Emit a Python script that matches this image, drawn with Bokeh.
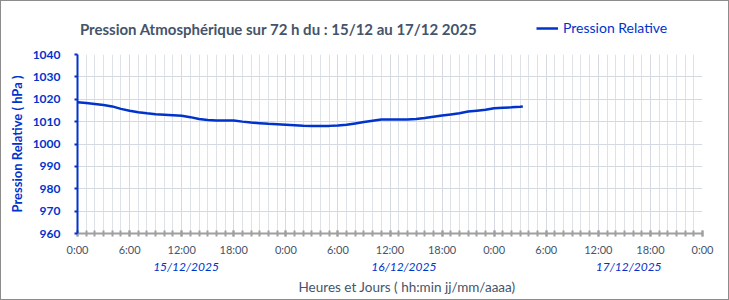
from bokeh.plotting import figure
from bokeh.models import (FixedTicker, Label, Legend, LegendItem, Range1d,
                          LinearAxis, Title, Column)
from bokeh.embed import file_html
from bokeh.resources import INLINE

# ---------------- data ----------------
hours = [0, 1, 2, 3, 4, 5, 6, 7, 8, 9, 10, 11, 12, 13, 14, 15, 16, 17, 18, 19,
         20, 21, 22, 23, 24, 25, 26, 27, 28, 29, 30, 31, 32, 33, 34, 35, 36, 37,
         38, 39, 40, 41, 42, 43, 44, 45, 46, 47, 48, 49, 50, 51, 51.3]
pressure = [1018.7, 1018.3, 1017.9, 1017.4, 1016.8, 1015.7, 1014.9, 1014.2,
            1013.7, 1013.3, 1013.1, 1012.9, 1012.6, 1012.0, 1011.2, 1010.7,
            1010.5, 1010.5, 1010.5, 1010.0, 1009.6, 1009.3, 1009.0, 1008.8,
            1008.6, 1008.4, 1008.2, 1008.1, 1008.0, 1008.1, 1008.3, 1008.6,
            1009.2, 1009.8, 1010.4, 1010.9, 1011.0, 1011.0, 1011.0, 1011.2,
            1011.6, 1012.2, 1012.7, 1013.2, 1013.7, 1014.5, 1014.9, 1015.3,
            1016.0, 1016.2, 1016.4, 1016.7, 1016.8]
x_tick_hours = [0, 6, 12, 18, 24, 30, 36, 42, 48, 54, 60, 66, 72]
x_tick_labels = ["0:00", "6:00", "12:00", "18:00", "0:00", "6:00", "12:00",
                 "18:00", "0:00", "6:00", "12:00", "18:00", "0:00"]
y_ticks = [960, 970, 980, 990, 1000, 1010, 1020, 1030, 1040]
day_labels = ["15/12/2025", "16/12/2025", "17/12/2025"]
series_name = "Pression Relative"
title_text = "Pression Atmosphérique sur 72 h du : 15/12 au 17/12  2025"
y_title = "Pression Relative ( hPa )"
x_title = "Heures et Jours ( hh:min  jj/mm/aaaa)"

# ---------------- style ----------------
FONT = "Lato"
BLUE = "#0033cc"
SLATE = "#44546a"
GRID = "#dde1e8"
W = 727
LEFT, RIGHT = 76, 26
NAN = float("nan")

# ---------------- header (title + legend) ----------------
HEAD_H = 45
head = figure(width=W, height=HEAD_H, output_backend="svg",
              toolbar_location=None, x_range=Range1d(LEFT + 1, W + 1 - RIGHT),
              y_range=Range1d(HEAD_H + 1, 1), min_border_left=LEFT,
              min_border_right=RIGHT, min_border_top=0, min_border_bottom=0,
              outline_line_color=None, background_fill_color="white",
              border_fill_color="white")
head.axis.visible = False
head.grid.visible = False
head.title.visible = False
head.add_layout(Label(x=280, y=28, text=title_text, text_font=FONT,
                      text_font_style="bold", text_font_size="15px",
                      text_color=SLATE, text_align="center",
                      text_baseline="middle"))
# legend proxy (same style as the series line, nothing plotted)
legend_line = head.line(x=[NAN, NAN], y=[NAN, NAN], line_color=BLUE,
                        line_width=2.5)
legend = Legend(items=[LegendItem(label=series_name, renderers=[legend_line],
                                  index=0)],
                location=(459, 10), orientation="horizontal",
                background_fill_alpha=0, border_line_color=None,
                padding=0, margin=0, glyph_width=22, glyph_height=16,
                label_height=16, label_standoff=5, label_text_font=FONT,
                label_text_font_size="14px", label_text_color=BLUE,
                label_text_baseline="middle")
head.add_layout(legend, "center")

# ---------------- main chart ----------------
MAIN_H = 298 - HEAD_H
p = figure(width=W, height=MAIN_H, output_backend="svg", toolbar_location=None,
           x_range=Range1d(0, 72), y_range=Range1d(960, 1040),
           min_border_left=LEFT, min_border_right=RIGHT, min_border_top=8,
           min_border_bottom=MAIN_H - 8 - 179, background_fill_color="white",
           border_fill_color="white", outline_line_color=None)
p.title.visible = False

r = p.line(hours, pressure, line_color=BLUE, line_width=2.5)

minor = list(range(73))
# x axis
xa = p.xaxis[0]
xa.ticker = FixedTicker(ticks=x_tick_hours, minor_ticks=minor)
xa.major_label_overrides = {h: l for h, l in zip(x_tick_hours, x_tick_labels)}
xa.axis_line_color = "#a0a0a0"
xa.axis_line_width = 2
xa.major_tick_line_color = "#a0a0a0"
xa.minor_tick_line_color = "#a0a0a0"
xa.major_tick_line_width = 2
xa.minor_tick_line_width = 2
xa.major_tick_in = 3
xa.major_tick_out = 3
xa.minor_tick_in = 3
xa.minor_tick_out = 3
xa.major_label_text_font = FONT
xa.major_label_text_font_size = "11px"
xa.major_label_text_color = SLATE
xa.major_label_standoff = 6

# day axis (second row of labels)
day_pos = [12.5, 37.6, 63.5]
da = LinearAxis(ticker=FixedTicker(ticks=day_pos),
                major_label_overrides={h: d for h, d in zip(day_pos, day_labels)},
                axis_line_color=None, major_tick_line_color=None,
                minor_tick_line_color=None, major_tick_in=0, major_tick_out=0,
                major_label_standoff=0, major_label_text_font=FONT,
                major_label_text_font_style="italic",
                major_label_text_font_size="12px",
                major_label_text_color=BLUE)
p.add_layout(da, "below")
p.add_layout(Title(text=x_title, align="left", offset=221, standoff=1,
                   text_font=FONT, text_font_style="normal",
                   text_font_size="13.5px", text_color=SLATE), "below")

# y axis
ya = p.yaxis[0]
ya.ticker = FixedTicker(ticks=y_ticks)
ya.axis_line_color = BLUE
ya.axis_line_width = 2
ya.major_tick_line_color = BLUE
ya.major_tick_line_width = 2
ya.major_tick_in = 0
ya.major_tick_out = 3
ya.minor_tick_line_color = None
ya.major_label_text_font = FONT
ya.major_label_text_font_style = "bold"
ya.major_label_text_font_size = "12px"
ya.major_label_text_color = BLUE
ya.major_label_standoff = 14
ya.axis_label = y_title
ya.axis_label_text_font = FONT
ya.axis_label_text_font_style = "bold"
ya.axis_label_text_font_size = "13px"
ya.axis_label_text_color = BLUE
ya.axis_label_standoff = 5

# grids
p.xgrid.ticker = FixedTicker(ticks=x_tick_hours, minor_ticks=minor)
p.xgrid.grid_line_color = "#d5dae2"
p.xgrid.grid_line_width = 1
p.xgrid.minor_grid_line_color = GRID
p.ygrid.ticker = FixedTicker(ticks=y_ticks)
p.ygrid.grid_line_color = "#d5dae2"

layout = Column(children=[head, p], spacing=0,
                styles={"border": "1px solid #8c8c8c", "width": "fit-content"})

open("out.html", "w").write(file_html(layout, INLINE))
